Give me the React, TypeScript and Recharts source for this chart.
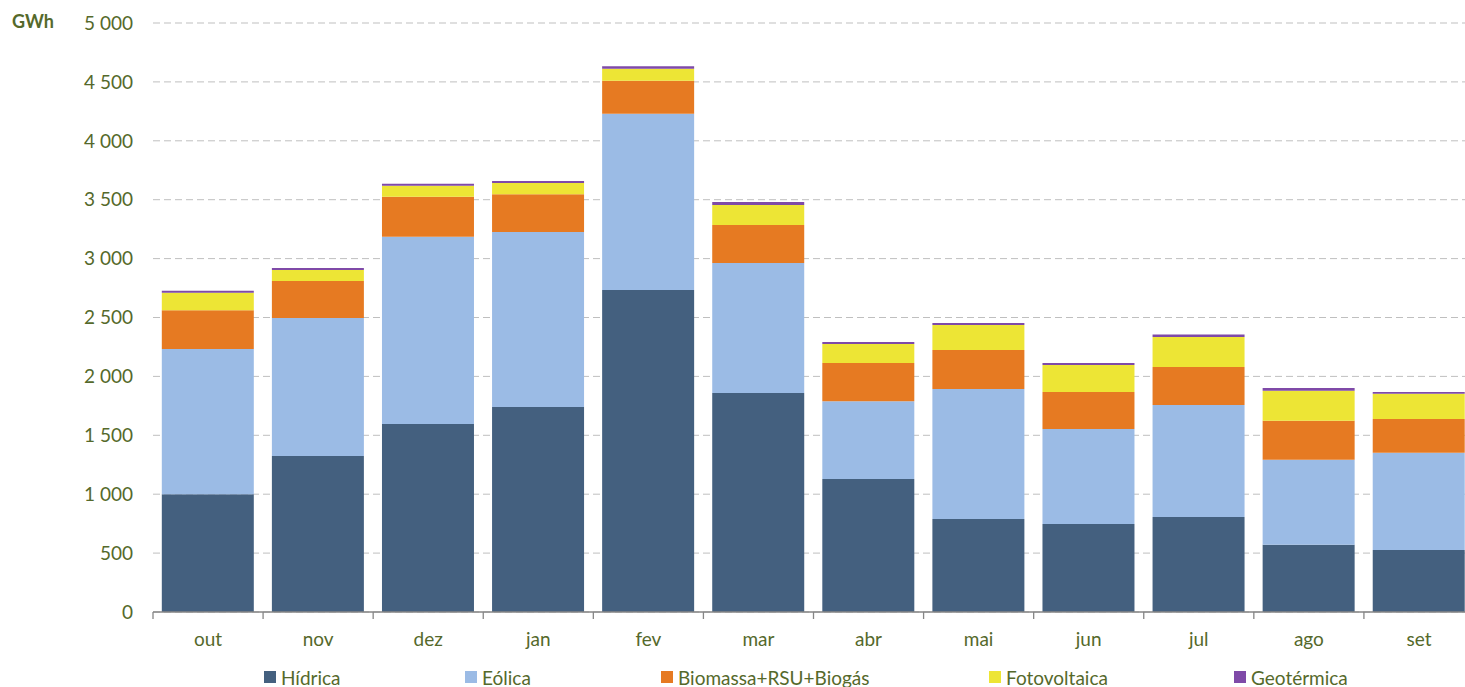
import React from 'react';
import { BarChart, Bar, XAxis, YAxis, CartesianGrid } from 'recharts';

const months = ['out', 'nov', 'dez', 'jan', 'fev', 'mar', 'abr', 'mai', 'jun', 'jul', 'ago', 'set'];
const hidrica = [1000, 1325, 1595, 1740, 2733, 1860, 1130, 790, 748, 806, 570, 527];
const eolica = [1233, 1170, 1590, 1485, 1497, 1103, 660, 1103, 805, 951, 723, 825];
const biomassa = [328, 315, 340, 322, 280, 322, 323, 331, 315, 323, 331, 286];
const foto = [149, 93, 93, 95, 102, 170, 162, 212, 229, 254, 255, 215];
const geo = [17, 17, 17, 17, 20, 25, 17, 17, 17, 22, 23, 15];
const yTicks = [0, 500, 1000, 1500, 2000, 2500, 3000, 3500, 4000, 4500, 5000];

const seriesNames = ['Hídrica', 'Eólica', 'Biomassa+RSU+Biogás', 'Fotovoltaica', 'Geotérmica'];
const seriesKeys = ['hidrica', 'eolica', 'biomassa', 'foto', 'geo'];
const colors = ['#44607f', '#9bbbe5', '#e67a22', '#ede535', '#7f4aa8'];
const legendLeft = [264, 465, 661, 989, 1234];

const data = months.map((m, i) => ({
  month: m,
  hidrica: hidrica[i],
  eolica: eolica[i],
  biomassa: biomassa[i],
  foto: foto[i],
  geo: geo[i],
}));

const TEXT = '#55692b';
const FONT = 'Lato, sans-serif';
const CHART_W = 1474;
const CHART_H = 687;
const Y_W = 153;
const X_H = 75;
const PLOT_W = CHART_W - Y_W;
const HALF_BAND = PLOT_W / months.length / 2;

const fmt = (v: number) => String(v).replace(/\B(?=(\d{3})+(?!\d))/g, ' ');

const XTick = (props: any) => {
  const { x, y, payload } = props;
  return (
    <g>
      <line x1={x - HALF_BAND} x2={x - HALF_BAND} y1={y} y2={y + 7} stroke="#868686" strokeWidth={1.3} />
      <text x={x} y={y + 34} textAnchor="middle" fill={TEXT} fontSize={19} fontFamily={FONT}>
        {payload.value}
      </text>
    </g>
  );
};

export default function App() {
  return (
    <div style={{ position: 'absolute', left: 0, top: 0, width: 1465, height: 687, overflow: 'hidden', background: '#fff' }}>
      <div style={{ position: 'absolute', left: 12, top: 10, fontFamily: FONT, fontWeight: 700, fontSize: 18, color: TEXT }}>GWh</div>
      <BarChart
        width={CHART_W}
        height={CHART_H}
        data={data}
        margin={{ top: 23, right: 0, left: 0, bottom: 0 }}
        barCategoryGap="8%"
      >
        <XAxis
          dataKey="month"
          height={X_H}
          tickSize={0}
          tickMargin={0}
          tickLine={false}
          axisLine={{ stroke: '#868686', strokeWidth: 1.3 }}
          tick={<XTick />}
          interval={0}
        />
        <YAxis
          width={Y_W}
          domain={[0, 5000]}
          ticks={yTicks}
          tickFormatter={fmt}
          axisLine={false}
          tickLine={false}
          tickSize={0}
          tickMargin={20}
          tick={{ fill: TEXT, fontSize: 19, fontFamily: FONT }}
          interval={0}
        />
        {seriesKeys.map((k, i) => (
          <Bar key={k} dataKey={k} name={seriesNames[i]} stackId="a" fill={colors[i]} isAnimationActive={false} />
        ))}
        <CartesianGrid vertical={false} stroke="#000" strokeOpacity={0.25} strokeDasharray="7 4" />
      </BarChart>
      {seriesNames.map((n, i) => (
        <div
          key={n}
          style={{
            position: 'absolute',
            left: legendLeft[i],
            top: 665,
            height: 24,
            display: 'flex',
            alignItems: 'center',
            fontFamily: FONT,
            fontSize: 19,
            color: TEXT,
            whiteSpace: 'nowrap',
          }}
        >
          <span style={{ display: 'inline-block', width: 12, height: 12, background: colors[i], marginRight: 5 }} />
          {n}
        </div>
      ))}
    </div>
  );
}
